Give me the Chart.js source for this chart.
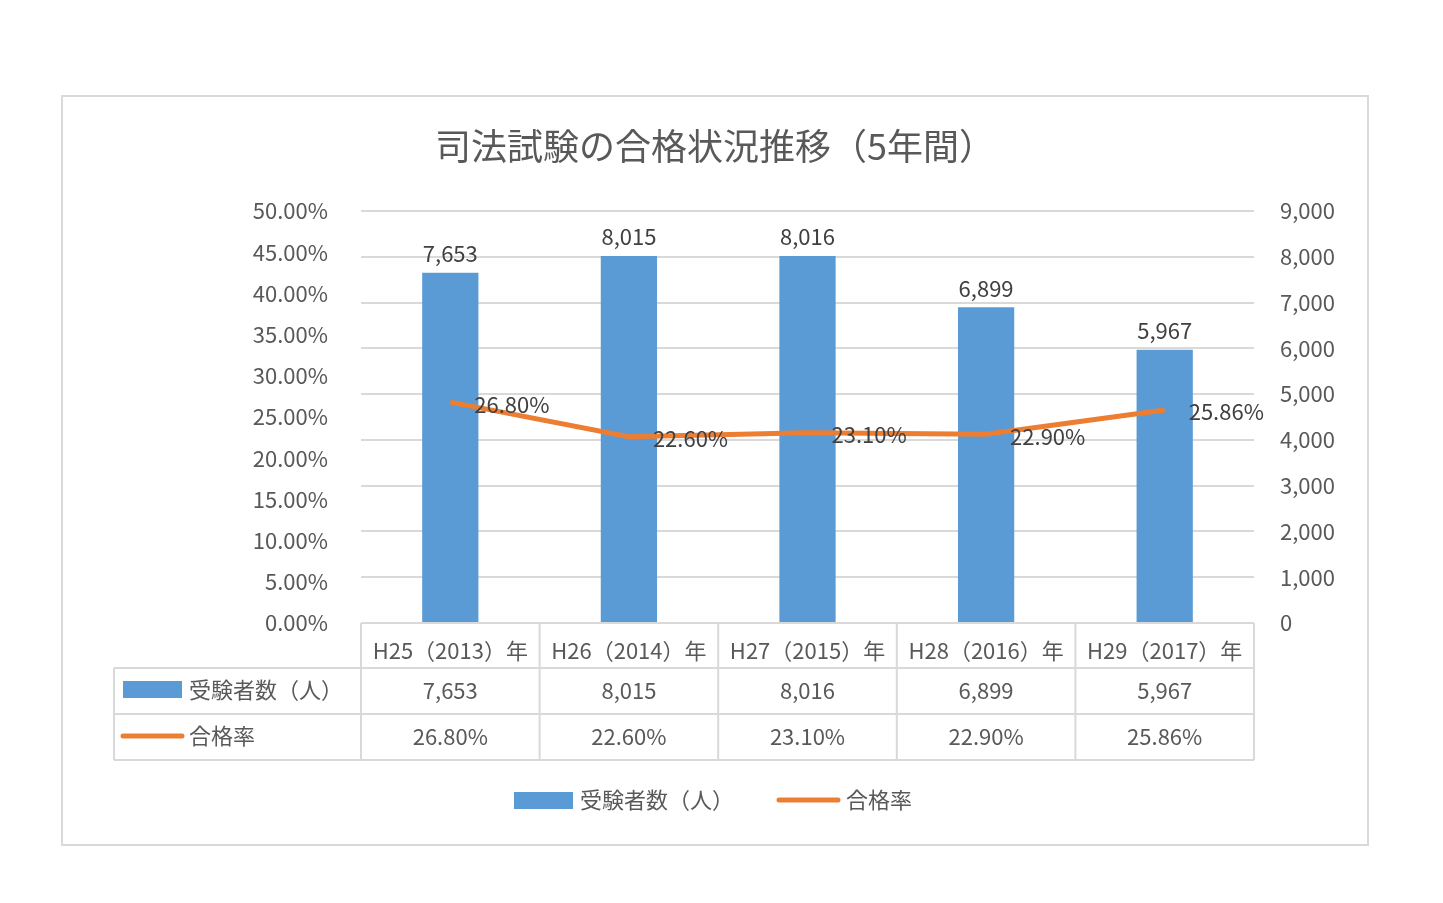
<!DOCTYPE html>
<html lang="ja">
<head>
<meta charset="UTF-8" />
<title>司法試験の合格状況推移</title>
<script src="https://cdn.jsdelivr.net/npm/chart.js"></script>
<style>
  html, body { margin: 0; padding: 0; background: #fff; }
  #wrap { position: relative; width: 1443px; height: 903px; }
</style>
</head>
<body>
<div id="wrap"><canvas id="grafico"></canvas></div>
<script>
  var anos = ["H25（2013）年", "H26（2014）年", "H27（2015）年", "H28（2016）年", "H29（2017）年"];
  var juken = [7653, 8015, 8016, 6899, 5967];
  var goukaku = [0.268, 0.226, 0.231, 0.229, 0.2586];
  var tituloTexto = "司法試験の合格状況推移（5年間）";
  var nomeBarra = "受験者数（人）";
  var nomeLinha = "合格率";

  var FONTE = '"Noto Sans CJK JP", "Noto Sans", sans-serif';
  var CINZA = "#595959";
  var AZUL = "#5b9bd5";
  var LARANJA = "#ed7d31";
  var LINHA = "#d9d9d9";

  function fmtN(v) { return v.toLocaleString("en-US"); }
  function fmtP(v) { return (v * 100).toFixed(2) + "%"; }

  var extras = {
    id: "extras",
    afterDraw: function(chart) {
      var ctx = chart.ctx;
      var area = chart.chartArea;
      var x = chart.scales.x;
      ctx.save();
      // moldura
      ctx.strokeStyle = LINHA;
      ctx.lineWidth = 2;
      ctx.strokeRect(62, 96, 1306, 749);
      // titulo
      ctx.fillStyle = CINZA;
      ctx.font = "36px " + FONTE;
      ctx.textAlign = "center";
      ctx.textBaseline = "middle";
      ctx.fillText(tituloTexto, 715, 146);

      // rotulos de dados
      ctx.font = "22px " + FONTE;
      ctx.fillStyle = "#404040";
      var mb = chart.getDatasetMeta(0);
      var ml = chart.getDatasetMeta(1);
      for (var i = 0; i < juken.length; i++) {
        var b = mb.data[i];
        ctx.textAlign = "center";
        ctx.textBaseline = "bottom";
        ctx.fillText(fmtN(juken[i]), b.x, b.y - 8);
        var p = ml.data[i];
        ctx.textAlign = "left";
        ctx.textBaseline = "middle";
        ctx.fillText(fmtP(goukaku[i]), p.x + 24, p.y + 2);
      }

      // tabela
      var bordas = [area.left];
      for (var j = 0; j < anos.length; j++) {
        bordas.push(area.left + (area.right - area.left) * (j + 1) / anos.length);
      }
      var yTopo = area.bottom, y1 = 668, y2 = 714, y3 = 760;
      ctx.strokeStyle = LINHA;
      ctx.lineWidth = 2;
      ctx.beginPath();
      for (var k = 0; k < bordas.length; k++) {
        ctx.moveTo(bordas[k], yTopo); ctx.lineTo(bordas[k], y3);
      }
      ctx.moveTo(114, y1); ctx.lineTo(114, y3);
      [y1, y2, y3].forEach(function(yy) { ctx.moveTo(114, yy); ctx.lineTo(area.right, yy); });
      ctx.moveTo(area.left, yTopo); ctx.lineTo(area.right, yTopo);
      ctx.stroke();

      ctx.fillStyle = CINZA;
      ctx.font = "22px " + FONTE;
      ctx.textAlign = "center";
      ctx.textBaseline = "middle";
      for (var c = 0; c < anos.length; c++) {
        var cx = (bordas[c] + bordas[c + 1]) / 2;
        ctx.fillText(fmtN(juken[c]), cx, (y1 + y2) / 2);
        ctx.fillText(fmtP(goukaku[c]), cx, (y2 + y3) / 2);
      }
      ctx.textAlign = "left";
      ctx.fillStyle = AZUL;
      ctx.fillRect(123, 681, 59, 17);
      ctx.strokeStyle = LARANJA;
      ctx.lineWidth = 5;
      ctx.lineCap = "round";
      ctx.beginPath(); ctx.moveTo(123, 736); ctx.lineTo(182, 736); ctx.stroke();
      ctx.fillStyle = CINZA;
      ctx.fillText(nomeBarra, 189, 690);
      ctx.fillText(nomeLinha, 189, 736);

      // legenda
      ctx.fillStyle = AZUL;
      ctx.fillRect(514, 792, 59, 17);
      ctx.beginPath(); ctx.moveTo(779, 800); ctx.lineTo(838, 800); ctx.stroke();
      ctx.fillStyle = CINZA;
      ctx.fillText(nomeBarra, 580, 800);
      ctx.fillText(nomeLinha, 846, 800);
      ctx.restore();
    }
  };

  new Chart(document.getElementById("grafico"), {
    data: {
      labels: anos,
      datasets: [{
        type: "bar",
        label: nomeBarra,
        data: juken,
        yAxisID: "y1",
        backgroundColor: AZUL,
        barPercentage: 0.315,
        categoryPercentage: 1,
        order: 2
      }, {
        type: "line",
        label: nomeLinha,
        data: goukaku,
        yAxisID: "y",
        borderColor: LARANJA,
        borderWidth: 5,
        pointRadius: 0,
        tension: 0,
        order: 1
      }]
    },
    options: {
      responsive: true,
      maintainAspectRatio: false,
      animation: false,
      layout: { padding: { top: 211, bottom: 235, left: 0, right: 0 } },
      plugins: { legend: { display: false }, title: { display: false }, tooltip: { enabled: false } },
      scales: {
        x: {
          grid: { display: false },
          border: { display: false },
          ticks: { color: CINZA, font: { family: FONTE, size: 22 }, padding: 6, maxRotation: 0 },
          afterFit: function(s) { s.height = 45; }
        },
        y: {
          position: "left",
          min: 0, max: 0.5,
          grid: { display: false },
          border: { display: false },
          ticks: { stepSize: 0.05, color: CINZA, font: { family: FONTE, size: 22 }, padding: 25,
                   callback: function(v) { return fmtP(v); } },
          afterFit: function(s) { s.width = 361; }
        },
        y1: {
          position: "right",
          min: 0, max: 9000,
          grid: { color: LINHA, lineWidth: 2, drawTicks: false },
          border: { display: false },
          ticks: { stepSize: 1000, color: CINZA, font: { family: FONTE, size: 22 }, padding: 26,
                   callback: function(v) { return fmtN(v); } },
          afterFit: function(s) { s.width = 189; }
        }
      }
    },
    plugins: [extras]
  });
</script>
</body>
</html>
